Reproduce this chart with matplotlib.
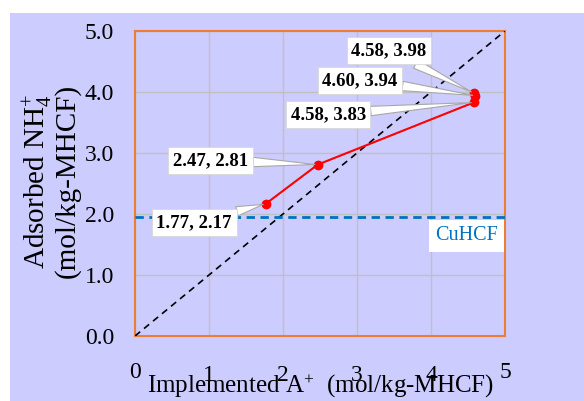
import matplotlib
matplotlib.use("Agg")
import matplotlib.pyplot as plt
from matplotlib.patches import Rectangle

plt.rcParams['font.family'] = ['Liberation Serif', 'DejaVu Serif']
plt.rcParams['mathtext.fontset'] = 'custom'
plt.rcParams['mathtext.rm'] = 'Liberation Serif'
plt.rcParams['mathtext.it'] = 'Liberation Serif:italic'
plt.rcParams['mathtext.bf'] = 'Liberation Serif:bold'

# Data
implemented = [1.77, 2.47, 4.58, 4.60, 4.58]
adsorbed = [2.17, 2.81, 3.83, 3.94, 3.98]
point_labels = ["1.77, 2.17", "2.47, 2.81", "4.58, 3.83", "4.60, 3.94", "4.58, 3.98"]
label_pos = [(0.80, 1.86), (1.02, 2.88), (2.61, 3.63), (3.04, 4.19), (3.43, 4.68)]
cuhcf_level = 1.95
diag_x = [0, 5]
diag_y = [0, 5]
x_ticks = [0, 1, 2, 3, 4, 5]
y_ticks = [0.0, 1.0, 2.0, 3.0, 4.0, 5.0]

BG = '#CCCCFF'
ORANGE = '#ED7D31'
BLUE = '#0070C0'

fig = plt.figure(figsize=(5.84, 4.01), dpi=100)
fig.patch.set_facecolor('white')
fig.patches.append(Rectangle((10/584, 0), 1 - 10/584, (401 - 13)/401,
                             transform=fig.transFigure, facecolor=BG,
                             edgecolor='none', zorder=-10))

ax = fig.add_axes([135/584, (401-336)/401, 370/584, 305/401])
ax.set_facecolor(BG)
ax.set_xlim(0, 5)
ax.set_ylim(0, 5)
ax.set_xticks(x_ticks)
ax.set_yticks(y_ticks)
ax.set_xticklabels([str(t) for t in x_ticks])
ax.set_yticklabels([f"{t:.1f}" for t in y_ticks])
ax.grid(True, color='#C0C0C0', lw=1.0)
ax.set_axisbelow(True)
for s in ax.spines.values():
    s.set_color(ORANGE)
    s.set_linewidth(1.5)
ax.tick_params(axis='both', length=0, labelsize=17)
ax.tick_params(axis='y', pad=15)
ax.tick_params(axis='x', pad=19)
for i, t in enumerate(ax.xaxis.get_major_ticks()):
    if i in (1, 2, 3, 4):
        t.set_pad(21)

ax.plot(diag_x, diag_y, ls=(0, (4, 3)), color='black', lw=1.2, zorder=3)
ax.axhline(cuhcf_level, color=BLUE, ls=(0, (3, 2)), lw=2.0, zorder=3)
ax.plot(implemented, adsorbed, color='red', lw=1.5, marker='o', ms=6, zorder=4)

for (x, y), lab, (tx, ty) in zip(zip(implemented, adsorbed), point_labels, label_pos):
    ax.annotate(lab, xy=(x, y), xytext=(tx, ty), textcoords='data',
                ha='center', va='center', fontsize=13.5, fontweight='bold',
                bbox=dict(boxstyle='square,pad=0.25', fc='white', ec='#D8D8D8', lw=0.6),
                arrowprops=dict(arrowstyle='wedge,tail_width=0.5,shrink_factor=0.5',
                                fc='white', ec='#A8A8A8', lw=0.8, shrinkA=0, shrinkB=2),
                zorder=5)

ax.text(4.48, 1.64, "CuHCF", ha='center', va='center', fontsize=14.5, color=BLUE,
        bbox=dict(boxstyle='square,pad=0.3', fc='white', ec='none'), zorder=5)

ax.set_xlabel(r'Implemented A$^{+}$  (mol/kg-MHCF)', fontsize=18)
ax.xaxis.set_label_coords(0.5, 2 / 305)
ax.xaxis.label.set_va('bottom')
ax.xaxis.label.set_transform(
    matplotlib.transforms.blended_transform_factory(ax.transAxes, fig.transFigure))
ax.xaxis.label.set_position((0.5, 1 / 401))

fig.text(51/584, 1 - 181/401, 'Adsorbed NH$_{4}^{+}$\n(mol/kg-MHCF)', rotation=90,
         ha='center', va='center', fontsize=21, linespacing=0.95)

fig.savefig('out.png', dpi=100, facecolor=fig.get_facecolor())
